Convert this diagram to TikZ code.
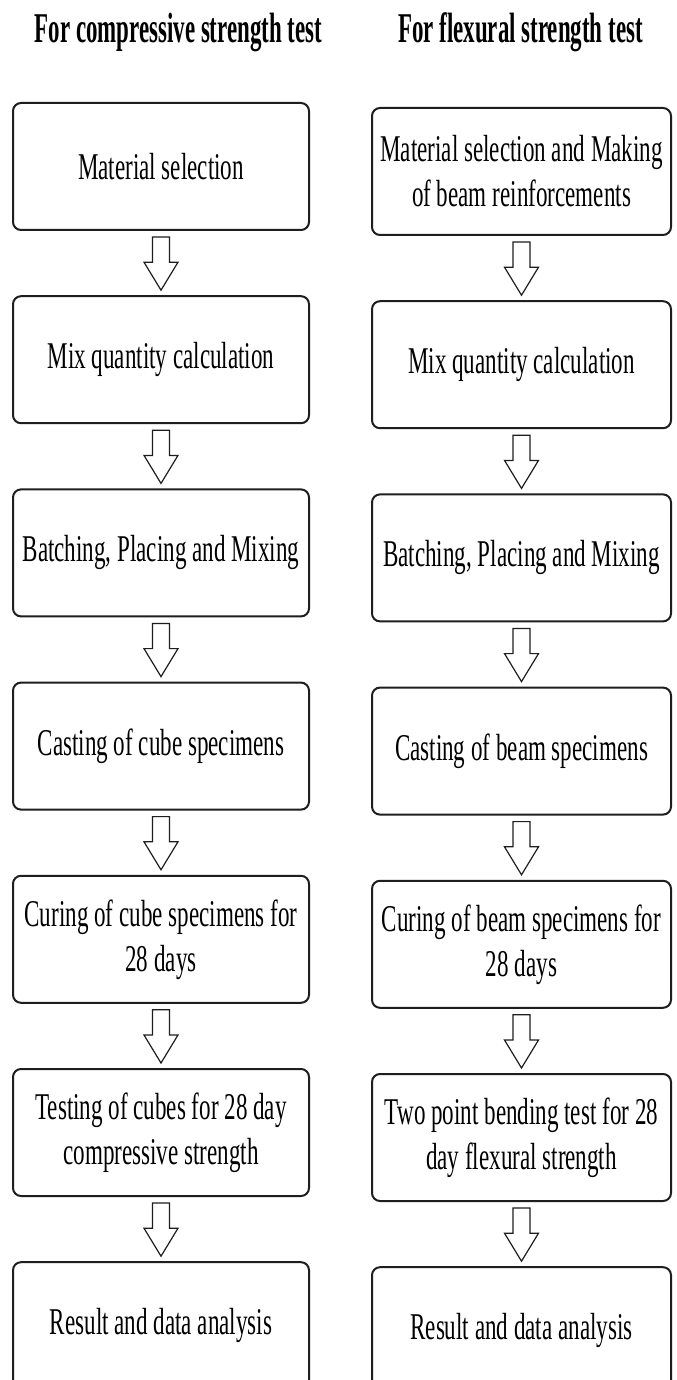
\documentclass[tikz,border=0pt]{standalone}
\usepackage{fontspec}
\usepackage{tikz}
\usetikzlibrary{positioning,calc}
\newfontfamily\boxfont{Liberation Serif}[FakeStretch=0.61]
\newfontfamily\headfont{Liberation Serif}[FakeStretch=0.54]
\definecolor{cInk}{HTML}{1E1E1E}
\tikzset{
  stage/.style  = {draw=cInk, line width=1pt, rounded corners=4pt, align=center,
                   minimum height=63.5pt, inner sep=2pt, text=black,
                   font=\boxfont\fontsize{18.9}{22.5}\selectfont},
  comp/.style   = {stage, minimum width=148pt},
  flex/.style   = {stage, minimum width=149.5pt},
  head/.style   = {inner sep=0pt, text=black,
                   font=\headfont\bfseries\fontsize{21.2}{24}\selectfont},
  hollow/.style = {draw=cInk, line width=0.6pt, fill=white, line join=miter},
}
% open block arrow from one stage down to the next
\newcommand\flowarrow[2]{%
  \draw[hollow] let \p1 = ($(#1.south)+(0,-3pt)$), \p2 = ($(#2.north)+(0,2.5pt)$) in
    (\x1-4.25pt,\y1) -- (\x1+4.25pt,\y1) -- (\x1+4.25pt,\y2+14pt)
    -- (\x1+8.5pt,\y2+14pt) -- (\x1,\y2) -- (\x1-8.5pt,\y2+14pt)
    -- (\x1-4.25pt,\y2+14pt) -- cycle;}
\begin{document}
\begin{tikzpicture}[x=0.5pt, y=-0.5pt, node distance=32.1pt]
  \useasboundingbox (0,0) rectangle (676,1380);
  \fill[white] (0,0) rectangle (676,1380);

  \node[head, anchor=base] (hc) at (178.5,43) {For compressive strength test};
  \node[head, anchor=base] (hf) at (520.5,43) {For flexural strength test};

  % compressive strength column
  \node[comp] (c1) at (161,166.5) {Material selection};
  \node[comp, below=of c1] (c2) {Mix quantity calculation};
  \node[comp, below=of c2] (c3) {Batching, Placing and Mixing};
  \node[comp, below=of c3] (c4) {Casting of cube specimens};
  \node[comp, below=of c4] (c5) {Curing of cube specimens for\\ 28 days};
  \node[comp, below=of c5] (c6) {Testing of cubes for 28 day\\ compressive strength};
  \node[comp, below=of c6] (c7) {Result and data analysis};

  % flexural strength column
  \node[flex] (f1) at (521.5,171.5) {Material selection and Making\\ of beam reinforcements};
  \node[flex, below=of f1] (f2) {Mix quantity calculation};
  \node[flex, below=of f2] (f3) {Batching, Placing and Mixing};
  \node[flex, below=of f3] (f4) {Casting of beam specimens};
  \node[flex, below=of f4] (f5) {Curing of beam specimens for\\ 28 days};
  \node[flex, below=of f5] (f6) {Two point bending test for 28\\ day flexural strength};
  \node[flex, below=of f6] (f7) {Result and data analysis};

  \foreach \i [evaluate=\i as \j using int(\i+1)] in {1,...,6} {
    \flowarrow{c\i}{c\j}
    \flowarrow{f\i}{f\j}
  }
\end{tikzpicture}
\end{document}
